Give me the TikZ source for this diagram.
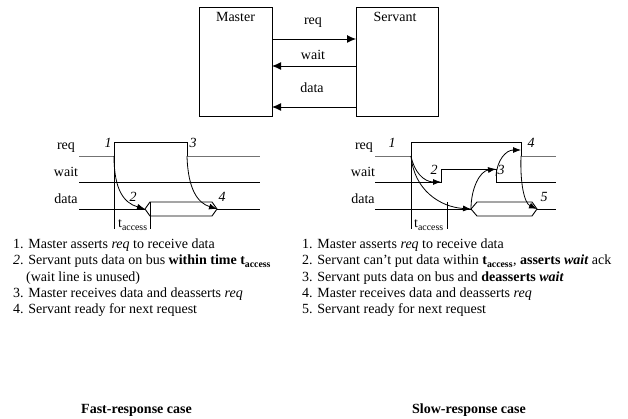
\documentclass[tikz,border=0pt]{standalone}
\usepackage{fontspec}
\setmainfont{Liberation Serif}
\usetikzlibrary{arrows.meta, math}

\newcommand{\bodysize}{\fontsize{14}{16}\selectfont}

\tikzset{
  wire/.style={line width=0.9pt},
  lowreq/.style={line width=0.9pt, black!55},
  flow/.style={-{Latex[length=8pt,width=6pt]}, line width=0.8pt},
  linkarrow/.style={-{Latex[length=9pt,width=8pt]}, line width=0.9pt},
  unit/.style={draw, line width=0.9pt, anchor=north west, inner sep=0pt},
  num/.style={font=\bodysize\itshape, anchor=base},
  lbl/.style={anchor=base},
  item/.style={anchor=base west, inner sep=0pt},
  caption/.style={font=\bodysize\bfseries, inner sep=0pt},
}

\begin{document}
\begin{tikzpicture}[x=1pt, y=-1pt, font=\bodysize]
\tikzmath{
\rl=156; \rh=142;
\wl=182; \wh=169;
\dl=209; \dt=202; \db=216;
\ta=229;
}
\useasboundingbox (0,0) rectangle (628,419);

% master and servant
\node[unit, minimum width=73pt, minimum height=109pt] (master) at (199,7) {};
\node[unit, minimum width=82pt, minimum height=109pt] (servant) at (356,7) {};
\node[lbl] (mastername) at (235.5,22) {Master};
\node[lbl] (servantname) at (395,22) {Servant};

\coordinate (mreq) at (272,39);  \coordinate (sreq) at (356,39);
\coordinate (mwait) at (272,66); \coordinate (swait) at (356,66);
\coordinate (mdata) at (272,107); \coordinate (sdata) at (356,107);
\draw[linkarrow] (mreq) -- (sreq);
\draw[linkarrow] (swait) -- (mwait);
\draw[linkarrow] (sdata) -- (mdata);
\node[lbl] (reqname) at (313,25) {req};
\node[lbl] (waitname) at (313,60) {wait};
\node[lbl] (dataname) at (312,93) {data};

% fast response
\node[lbl] (freq) at (66,150) {req};
\node[lbl] (fwait) at (66,177) {wait};
\node[lbl] (fdata) at (66,204) {data};

\coordinate (fa) at (114,\rl);
\coordinate (fb) at (187,\rl);
\coordinate (fl) at (145,\dl);
\coordinate (fr) at (217,\dl);
\draw[lowreq] (79,\rl) -- (fa);
\draw[wire] (114,\ta) -- (114,\rh) -- (187,\rh) -- (fb);
\draw[lowreq] (fb) -- (260,\rl);
\draw[wire] (79,\wl) -- (260,\wl);
\draw[wire] (79,\dl) -- (fl);
\draw[wire] (fl) -- (150,\dt) -- (212,\dt) -- (fr) -- (212,\db) -- (150,\db) -- cycle;
\draw[wire] (fr) -- (260,\dl);
\draw[wire] (150,\dt) -- (150,\ta);
\node[anchor=base west, inner sep=0pt] (facc) at (118,228) {t\textsubscript{access}};

\draw[flow] (fa) .. controls (114,190) and (124,203) .. (fl);
\draw[flow] (fb) .. controls (188,190) and (198,203) .. (fr);

\node[num] (f1) at (108,148) {1};
\node[num] (f2) at (133,202) {2};
\node[num] (f3) at (193,148) {3};
\node[num] (f4) at (222,202) {4};

% slow response
\node[lbl] (sreqn) at (364,150) {req};
\node[lbl] (swaitn) at (363,177) {wait};
\node[lbl] (sdatan) at (363,204) {data};

\coordinate (sa) at (411,\rl);
\coordinate (sb) at (521,\rl);
\coordinate (sc) at (521,150);
\coordinate (sw) at (441,\wl);
\coordinate (sx) at (496,\wh);
\coordinate (sy) at (496,176);
\coordinate (sl) at (471,\dl);
\coordinate (sr) at (537,\dl);
\draw[lowreq] (375,\rl) -- (sa);
\draw[wire] (411,\ta) -- (411,\rh) -- (521,\rh) -- (sb);
\draw[lowreq] (sb) -- (556,\rl);
\draw[wire] (375,\wl) -- (sw) -- (441,\wh) -- (sx) -- (496,\wl) -- (556,\wl);
\draw[wire] (375,\dl) -- (sl);
\draw[wire] (sl) -- (477,\dt) -- (532,\dt) -- (sr) -- (532,\db) -- (477,\db) -- cycle;
\draw[wire] (sr) -- (556,\dl);
\draw[wire] (447,\dt) -- (447,\ta);
\node[anchor=base west, inner sep=0pt] (sacc) at (414,228) {t\textsubscript{access}};

\draw[flow] (sa) .. controls (414,172) and (424,182) .. (sw);
\draw[flow] (sa) .. controls (414,190) and (440,207) .. (sl);
\draw[flow] (sl) .. controls (471,188) and (480,171) .. (sx);
\draw[flow] (sy) .. controls (497,160) and (506,150) .. (sc);
\draw[flow] (sb) .. controls (520,182) and (524,203) .. (sr);

\node[num] (s1) at (392,148) {1};
\node[num] (s2) at (434,175) {2};
\node[num] (s3) at (501,175) {3};
\node[num] (s4) at (531,148) {4};
\node[num] (s5) at (544,202) {5};

% steps
\node[item] (fs1) at (13,249) {1. Master asserts \textit{req} to receive data};
\node[item] (fs2) at (13,265) {\textit{2}. Servant puts data on bus \textbf{within time t\textsubscript{access}}};
\node[item] (fs2b) at (26,281) {(wait line is unused)};
\node[item] (fs3) at (13,297) {3. Master receives data and deasserts \textit{req}};
\node[item] (fs4) at (13,313) {4. Servant ready for next request};

\node[item] (ss1) at (302,249) {1. Master asserts \textit{req} to receive data};
\node[item] (ss2) at (302,265) {2. Servant can't put data within \textbf{t\textsubscript{access}}, \textbf{asserts \textit{wait}} ack};
\node[item] (ss3) at (302,281) {3. Servant puts data on bus and \textbf{deasserts \textit{wait}}};
\node[item] (ss4) at (302,297) {4. Master receives data and deasserts \textit{req}};
\node[item] (ss5) at (302,313) {5. Servant ready for next request};

\node[caption, anchor=base east] (fastcase) at (192,413) {Fast-response case};
\node[caption, anchor=base west] (slowcase) at (412,413) {Slow-response case};
\end{tikzpicture}
\end{document}
